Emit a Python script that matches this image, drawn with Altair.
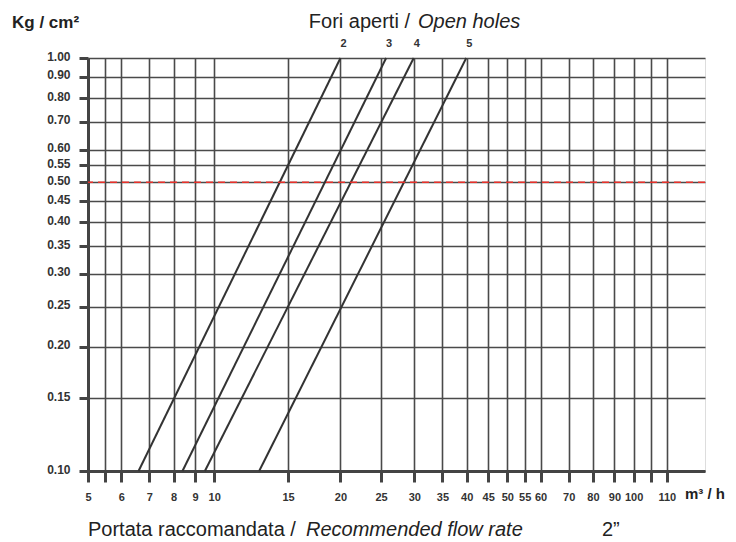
import altair as alt
import pandas as pd

# ---- data ----
series = ["2", "3", "4", "5"]                # open holes
flow_at_p010 = [6.6, 8.4, 9.5, 12.8]         # m3/h where each line meets 0.10 kg/cm2
flow_at_p100 = [20.0, 25.7, 29.9, 39.9]      # m3/h where each line meets 1.00 kg/cm2
p_low, p_high = 0.10, 1.00
recommended_pressure = [0.50]

x_ticks = [5, 5.5, 6, 7, 8, 9, 10, 15, 20, 25, 30, 35, 40, 45, 50, 55, 60,
           70, 80, 90, 100, 110, 120]
x_labels = ["5", "", "6", "7", "8", "9", "10", "15", "20", "25", "30", "35",
            "40", "45", "50", "55", "60", "70", "80", "90", "100", "", "110"]
y_ticks = [0.10, 0.15, 0.20, 0.25, 0.30, 0.35, 0.40, 0.45, 0.50, 0.55, 0.60,
           0.70, 0.80, 0.90, 1.00]

# ---- tables ----
rows = []
for s, lo, hi in zip(series, flow_at_p010, flow_at_p100):
    rows.append({"series": s, "flow": lo, "pressure": p_low})
    rows.append({"series": s, "flow": hi, "pressure": p_high})
lines_df = pd.DataFrame(rows)
top_df = pd.DataFrame({"series": series, "flow": flow_at_p100,
                       "pressure": [p_high] * len(series)})
rule_df = pd.DataFrame({"pressure": recommended_pressure})

expr = "datum.label"
for v, l in reversed(list(zip(x_ticks, x_labels))):
    expr = f"datum.value == {v} ? '{l}' : ({expr})"

FONT = "Liberation Sans"
GRID = "#4a4a4a"

x_scale = alt.Scale(type="log", domain=[5, 148], nice=False)
y_scale = alt.Scale(type="log", domain=[0.1, 1.0], nice=False)

x_axis = alt.Axis(values=x_ticks, labelExpr=expr, grid=True, gridColor=GRID,
                  gridWidth=1.6, gridOpacity=1, tickColor="#444", tickWidth=3,
                  tickSize=11, domainColor="#444", domainWidth=3,
                  labelFont=FONT, labelFontWeight="bold", labelFontSize=11,
                  labelColor="#333", labelPadding=9, labelFlush=False,
                  labelOverlap=False, title=None)
y_axis = alt.Axis(values=y_ticks, format=".2f", grid=True, gridColor=GRID,
                  gridWidth=1.6, gridOpacity=1, tickColor="#444", tickWidth=3,
                  tickSize=9, domainColor="#444", domainWidth=3,
                  labelFont=FONT, labelFontWeight="bold", labelFontSize=12,
                  labelColor="#333", labelPadding=9, labelOffset=-2,
                  labelFlush=False, labelOverlap=False, title=None)

lines = alt.Chart(lines_df).mark_line(color="#333", strokeWidth=2).encode(
    x=alt.X("flow:Q", scale=x_scale, axis=x_axis),
    y=alt.Y("pressure:Q", scale=y_scale, axis=y_axis),
    detail="series:N",
)

line_labels = alt.Chart(top_df).mark_text(
    font=FONT, fontWeight="bold", fontSize=11, color="#333", dy=-14, dx=3
).encode(x=alt.X("flow:Q", scale=x_scale), y=alt.Y("pressure:Q", scale=y_scale),
         text="series:N")

rule = alt.Chart(rule_df).mark_rule(
    color="#e8302a", strokeDash=[7, 5], strokeWidth=1.5
).encode(y=alt.Y("pressure:Q", scale=y_scale))


def note(text, px, py, size, align="left", weight="normal", style="normal"):
    return alt.Chart(pd.DataFrame({"t": [text]})).mark_text(
        font=FONT, fontSize=size, fontWeight=weight, fontStyle=style,
        align=align, baseline="alphabetic", color="#222"
    ).encode(text="t:N", x=alt.value(px), y=alt.value(py))


notes = [
    note("Kg / cm²", -76, -30, 17, weight="bold"),
    note("Fori aperti /", 322, -30, 20, align="right"),
    note("Open holes", 330, -30, 20, style="italic"),
    note("m³ / h", 597, 441, 15, weight="bold"),
    note("Portata raccomandata /", 0, 478, 20),
    note("Recommended flow rate", 218, 478, 20, style="italic"),
    note("2”", 514, 478, 20),
]

chart = alt.layer(lines, rule, line_labels, *notes).properties(
    width=617, height=413,
    autosize=alt.AutoSizeParams(type="none"),
    padding={"left": 80, "top": 50, "right": 23, "bottom": 71},
).configure_view(stroke="#444", strokeWidth=3).configure(background="white")

chart.save("out.html", embed_options={"renderer": "svg", "actions": False})
